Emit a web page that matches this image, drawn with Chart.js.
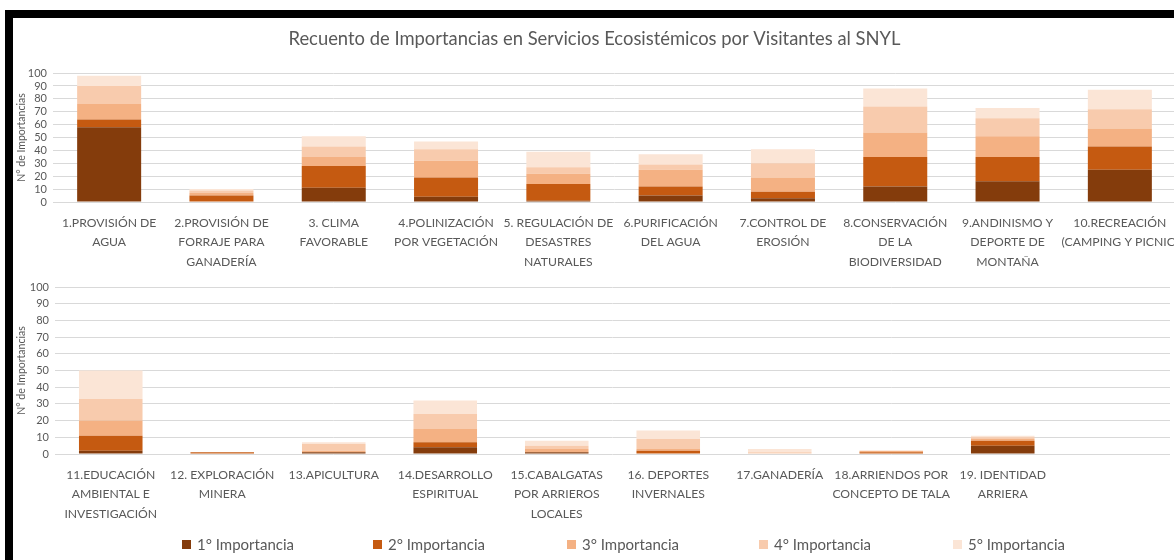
<!DOCTYPE html>
<html>
<head>
<meta charset="utf-8">
<script src="https://cdn.jsdelivr.net/npm/chart.js@4.4.1/dist/chart.umd.min.js"></script>
<style>
    html, body { margin: 0; padding: 0; background: #fff; width: 1174px; height: 560px; overflow: hidden; }
    #frame { position: absolute; left: 5px; top: 10px; width: 1200px; height: 560px; border-top: 8px solid #000; border-left: 8px solid #000; }
    #topWrap { position: absolute; left: 13px; top: 18px; width: 1175px; height: 262px; }
    #botWrap { position: absolute; left: 13px; top: 270px; width: 1175px; height: 260px; }
    #legend { position: absolute; top: 535px; left: 0; width: 1174px; height: 20px; font-family: Lato, sans-serif; font-size: 15px; color: #595959; }
    #legend span { position: absolute; top: 0; white-space: nowrap; line-height: 18px; }
    #legend i { display: inline-block; width: 9px; height: 9px; margin-right: 6px; vertical-align: 1px; }
</style>
</head>
<body>
<div id="frame"></div>
<div id="topWrap"><canvas id="topChartCanvas"></canvas></div>
<div id="botWrap"><canvas id="botChartCanvas"></canvas></div>
<div id="legend"></div>
<script>
const FONT = "Lato, 'Open Sans', sans-serif";

// top chart categories (services 1-10)
const topLabels = [
    ['1.PROVISIÓN DE', 'AGUA'],
    ['2.PROVISIÓN DE', 'FORRAJE PARA', 'GANADERÍA'],
    ['3. CLIMA', 'FAVORABLE'],
    ['4.POLINIZACIÓN', 'POR VEGETACIÓN'],
    ['5. REGULACIÓN DE', 'DESASTRES', 'NATURALES'],
    ['6.PURIFICACIÓN', 'DEL AGUA'],
    ['7.CONTROL DE', 'EROSIÓN'],
    ['8.CONSERVACIÓN', 'DE LA', 'BIODIVERSIDAD'],
    ['9.ANDINISMO Y', 'DEPORTE DE', 'MONTAÑA'],
    ['10.RECREACIÓN', '(CAMPING Y PICNIC)']
];
const imp1Top = [58, 0, 11, 4, 1, 5, 3, 12, 16, 25];
const imp2Top = [6, 5, 17, 15, 13, 7, 5, 23, 19, 18];
const imp3Top = [12, 2, 7, 13, 8, 13, 11, 19, 16, 14];
const imp4Top = [14, 2, 8, 9, 5, 4, 11, 20, 14, 15];
const imp5Top = [8, 1, 8, 6, 12, 8, 11, 14, 8, 15];

// bottom chart categories (services 11-19, last slot empty)
const botLabels = [
    ['11.EDUCACIÓN', 'AMBIENTAL E', 'INVESTIGACIÓN'],
    ['12. EXPLORACIÓN', 'MINERA'],
    ['13.APICULTURA'],
    ['14.DESARROLLO', 'ESPIRITUAL'],
    ['15.CABALGATAS', 'POR ARRIEROS', 'LOCALES'],
    ['16. DEPORTES', 'INVERNALES'],
    ['17.GANADERÍA'],
    ['18.ARRIENDOS POR', 'CONCEPTO DE TALA'],
    ['19. IDENTIDAD', 'ARRIERA'],
    ''
];
const imp1Bot = [2, 0, 1, 4, 1, 0, 0, 0, 5, null];
const imp2Bot = [9, 1, 0, 3, 0, 2, 0, 1, 3, null];
const imp3Bot = [9, 0, 1, 8, 2, 1, 0, 1, 1, null];
const imp4Bot = [13, 0, 4, 9, 2, 6, 1, 0, 1, null];
const imp5Bot = [17, 0, 1, 8, 3, 5, 2, 0, 1, null];

const yTicks = [0, 10, 20, 30, 40, 50, 60, 70, 80, 90, 100];
const seriesNames = ['1° Importancia', '2° Importancia', '3° Importancia', '4° Importancia', '5° Importancia'];
const seriesColors = ['#843C0C', '#C55A11', '#F4B183', '#F8CBAD', '#FBE5D6'];

function makeDatasets(arrs) {
    return arrs.map((d, i) => ({
        label: seriesNames[i],
        data: d,
        backgroundColor: seriesColors[i],
        borderWidth: 0,
        categoryPercentage: 1,
        barPercentage: 0.57
    }));
}

function makeOptions(showTitle, yWidth, xHeight, pad) {
    return {
        responsive: true,
        maintainAspectRatio: false,
        animation: false,
        layout: { padding: pad },
        scales: {
            x: {
                stacked: true,
                grid: { display: false },
                border: { display: false },
                afterFit: axis => { axis.height = xHeight; axis.paddingLeft = 0; axis.paddingRight = 0; },
                ticks: {
                    color: '#595959',
                    font: { family: FONT, size: 12.2, lineHeight: 1.56 },
                    maxRotation: 0,
                    autoSkip: false,
                    padding: 4
                }
            },
            y: {
                stacked: true,
                min: 0,
                max: 100,
                afterBuildTicks: axis => { axis.ticks = yTicks.map(v => ({ value: v })); },
                afterFit: axis => { axis.width = yWidth; axis.paddingTop = 0; axis.paddingBottom = 0; },
                grid: { color: '#d9d9d9', drawTicks: false },
                border: { display: false },
                ticks: { color: '#595959', font: { family: FONT, size: 11 }, padding: 6, autoSkip: false },
                title: {
                    display: true,
                    text: 'N° de Importancias',
                    color: '#595959',
                    font: { family: FONT, size: 10.5 },
                    padding: 2
                }
            }
        },
        plugins: {
            title: {
                display: showTitle,
                text: 'Recuento de Importancias en Servicios Ecosistémicos por Visitantes al SNYL',
                color: '#595959',
                font: { family: FONT, size: 18.4, weight: 'normal' },
                padding: { top: 10, bottom: 23 }
            },
            legend: { display: false },
            tooltip: { enabled: false }
        }
    };
}

const topChart = new Chart(document.getElementById('topChartCanvas').getContext('2d'), {
    type: 'bar',
    data: { labels: topLabels, datasets: makeDatasets([imp1Top, imp2Top, imp3Top, imp4Top, imp5Top]) },
    options: makeOptions(true, 40, 78, { left: 0, right: 12, top: 0, bottom: 0 })
});

const botChart = new Chart(document.getElementById('botChartCanvas').getContext('2d'), {
    type: 'bar',
    data: { labels: botLabels, datasets: makeDatasets([imp1Bot, imp2Bot, imp3Bot, imp4Bot, imp5Bot]) },
    options: makeOptions(false, 42, 76, { left: 0, right: 18, top: 17, bottom: 0 })
});

// legend under the bottom chart, built from the series names and colours
const legendX = [182, 373, 567, 759, 953];
const legendBox = document.getElementById('legend');
seriesNames.forEach((name, i) => {
    const item = document.createElement('span');
    item.style.left = legendX[i] + 'px';
    item.innerHTML = '<i style="background:' + seriesColors[i] + '"></i>' + name;
    legendBox.appendChild(item);
});
</script>
</body>
</html>
